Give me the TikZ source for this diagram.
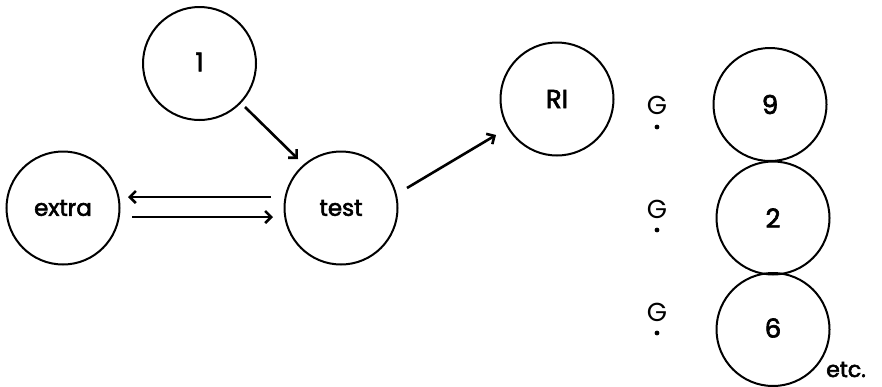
\documentclass[tikz,border=0pt]{standalone}
\usepackage{fontspec}
\setmainfont{Poppins}
\newfontfamily\semi{Poppins}[FakeBold=2.5]
\usetikzlibrary{arrows.meta}
\begin{document}
\begin{tikzpicture}[x=1pt,y=-1pt,
  ring/.style={circle,draw,line width=2pt,minimum size=113pt,inner sep=0pt,font=\semi\fontsize{23}{23}\selectfont},
  big/.style={font=\semi\fontsize{26}{26}\selectfont},
  conn/.style={line width=2.6pt,-{Straight Barb[length=6pt,width=12pt,line width=2.6pt]}},
  glab/.style={font=\fontsize{26}{26}\selectfont,inner sep=0pt}]
\useasboundingbox (0,0) rectangle (882,386);
\node[ring,big] (one) at (199.5,63.5) {\raisebox{3pt}{1}};
\node[ring] (extra) at (63,208) {extra};
\node[ring] (test) at (341,208) {test};
\node[ring,big] (ri) at (557,99) {\raisebox{-5pt}{RI}};
\node[ring,big] (nine) at (770,104.5) {9};
\node[ring,big] (two) at (773,218) {2};
\node[ring,big] (six) at (773,329.5) {\raisebox{3pt}{6}};
\node[glab] (g1) at (657,105) {G};
\node[glab] (g2) at (657,209) {G};
\node[glab] (g3) at (657,312) {G};
\fill (657,127) circle (2.4pt);
\fill (657,230) circle (2.4pt);
\fill (657,333) circle (2.4pt);
\node[font=\semi\fontsize{22}{22}\selectfont,inner sep=0pt,anchor=base west] (etc) at (826,377) {etc.};
\coordinate (a1s) at (245,107);
\coordinate (a1e) at (298,159);
\draw[conn] (a1s) -- (a1e);
\coordinate (a2s) at (271,197);
\coordinate (a2e) at (128,197);
\draw[conn] (a2s) -- (a2e);
\coordinate (a3s) at (132,217);
\coordinate (a3e) at (273,217);
\draw[conn] (a3s) -- (a3e);
\coordinate (a4s) at (407,188);
\coordinate (a4e) at (496,135);
\draw[conn] (a4s) -- (a4e);
\end{tikzpicture}
\end{document}
